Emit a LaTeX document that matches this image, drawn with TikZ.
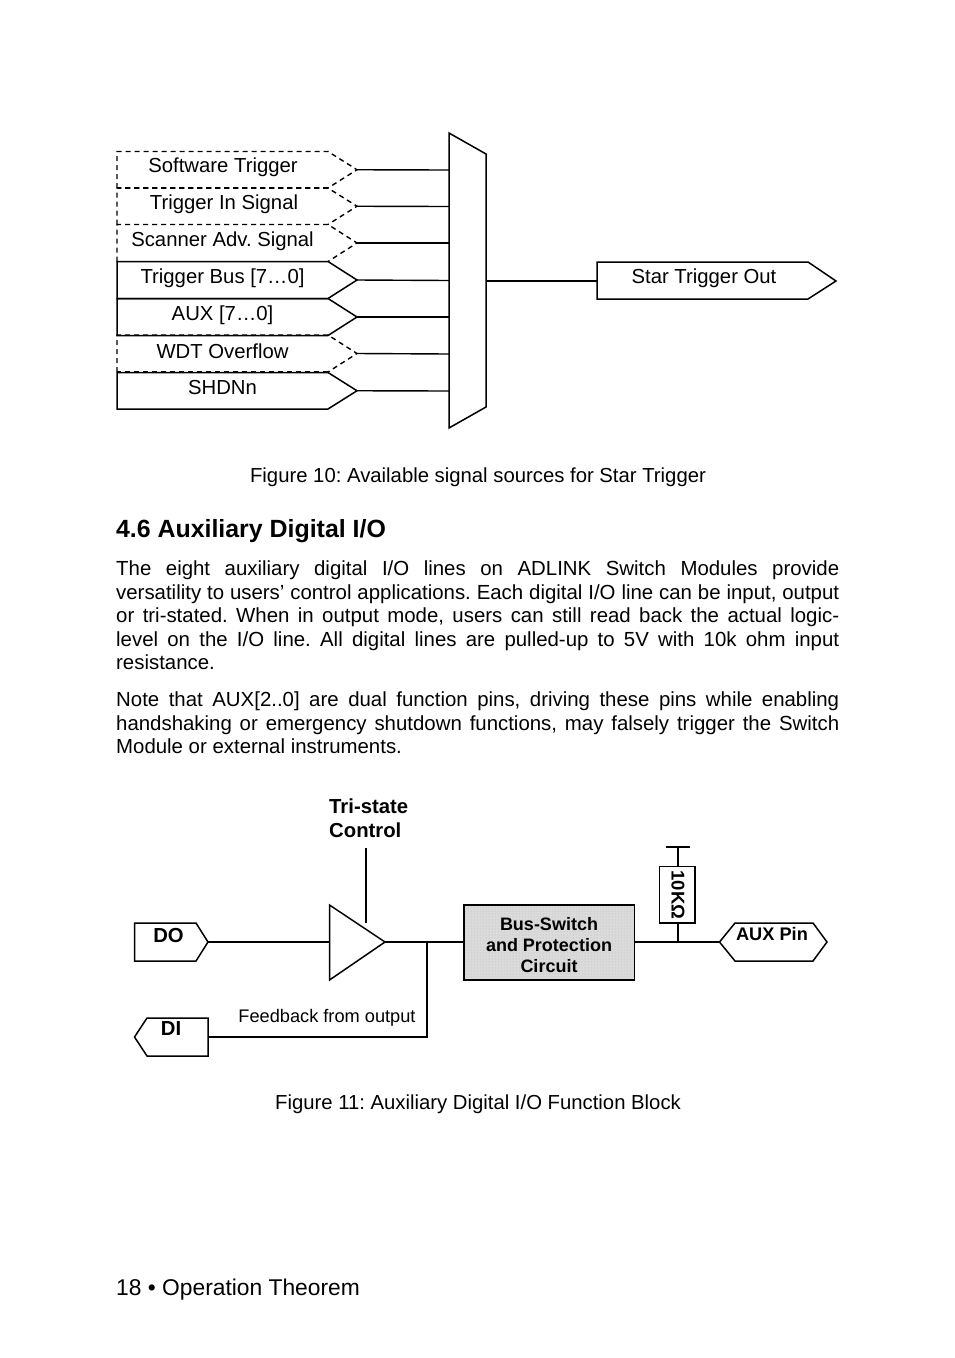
\documentclass[tikz,border=0pt]{standalone}
\usepackage{fontspec}
\setmainfont{Liberation Sans}
\usetikzlibrary{patterns}
\frenchspacing
\tikzset{
  x=1pt,y=-1pt,
  wire/.style={draw=black,line width=1.4pt},
  shapeline/.style={draw=black,line width=1.5pt,line join=miter},
  dashline/.style={draw=black,line width=1.4pt,dash pattern=on 5pt off 4pt},
  lbl/.style={inner sep=0pt,anchor=center,font=\fontsize{20.3}{24}\selectfont},
  blbl/.style={inner sep=0pt,anchor=center,font=\fontsize{20.3}{24}\selectfont\bfseries},
  body/.style={inner sep=0pt,anchor=north west,text width=723pt,align=justify,font=\fontsize{20.4}{23.35}\selectfont},
}
\newcommand{\solidsig}[3]{% top, bottom, tip-name
  \draw[shapeline] (117,#1) -- (328,#1) -- (357,{(#1+#2)/2}) -- (328,#2) -- (117,#2) -- cycle;
  \coordinate (#3) at (357,{(#1+#2)/2});}
\newcommand{\dashsig}[3]{%
  \draw[dashline] (328,#2) -- (117,#2);
  \draw[dashline] (117,#2) -- (117,#1) -- (328,#1) -- (357,{(#1+#2)/2}) -- (328,#2);
  \coordinate (#3) at (357,{(#1+#2)/2});}
\begin{document}
\begin{tikzpicture}
\useasboundingbox (0,0) rectangle (954,1358);
\fill[white] (0,0) rectangle (954,1358);

% top figure
\dashsig{151.5}{188}{s1}
\dashsig{188}{224.5}{s2}
\dashsig{224.5}{261.5}{s3}
\dashsig{335}{372}{s6}
\solidsig{261.5}{298.5}{s4}
\solidsig{298.5}{335.5}{s5}
\solidsig{372.5}{409}{s7}
\node[lbl] (t1) at (223,167.5) {Software Trigger};
\node[lbl] (t2) at (224,204.5) {Trigger In Signal};
\node[lbl] (t3) at (222.5,241.5) {Scanner Adv. Signal};
\node[lbl] (t4) at (222.5,278) {Trigger Bus [7…0]};
\node[lbl] (t5) at (222.5,315) {AUX [7…0]};
\node[lbl] (t6) at (222.5,351) {WDT Overflow};
\node[lbl] (t7) at (222.5,388) {SHDNn};

\draw[shapeline] (449,133) -- (486,154) -- (486,407) -- (449,428) -- cycle;
\foreach \i/\y in {1/170,2/206.5,3/243,4/280.5,5/317,6/354,7/391}{
  \coordinate (m\i) at (449,\y);
  \draw[wire] (s\i) -- (m\i);
}
\coordinate (mo) at (486,281);
\coordinate (so) at (597,281);
\draw[wire] (mo) -- (so);
\draw[shapeline] (597,262) -- (808,262) -- (836,281) -- (808,299) -- (597,299) -- cycle;
\node[lbl] (tso) at (704,278) {Star Trigger Out};

\node[lbl] (cap1) at (478,477) {Figure 10: Available signal sources for Star Trigger};
\node[inner sep=0pt,anchor=center,font=\fontsize{24.9}{28}\selectfont\bfseries] (head) at (251,531) {4.6 Auxiliary Digital I/O};

\node[body] (p1) at (116,561) {The eight auxiliary digital I/O lines on ADLINK Switch Modules provide\linebreak versatility to users’ control applications. Each digital I/O line can be input, output\linebreak or tri-stated. When in output mode, users can still read back the actual logic-\linebreak level on the I/O line. All digital lines are pulled-up to 5V with 10k ohm input\linebreak resistance.};
\node[body] (p2) at (116,692) {Note that AUX[2..0] are dual function pins, driving these pins while enabling\linebreak handshaking or emergency shutdown functions, may falsely trigger the Switch\linebreak Module or external instruments.};

% bottom figure
\node[blbl,anchor=north west,align=left,font=\fontsize{20.3}{24}\selectfont\bfseries] (tri) at (329,799) {Tri-state\\Control};
\draw[shapeline] (134.5,923) -- (196,923) -- (208,942) -- (196,961) -- (134.5,961) -- cycle;
\coordinate (do) at (208,942);
\node[blbl] (tdo) at (168.5,935.5) {DO};
\draw[shapeline] (208,1018) -- (147,1018) -- (134.5,1037) -- (147,1056) -- (208,1056) -- cycle;
\coordinate (di) at (208,1037);
\node[blbl] (tdi) at (171,1029) {DI};

\draw[shapeline] (329.5,905) -- (385,942) -- (329.5,980) -- cycle;
\coordinate (bi) at (329.5,942);
\coordinate (bo) at (385,942);
\coordinate (jn) at (427,942);
\coordinate (ct) at (366,848);
\coordinate (cb) at (366,923);
\coordinate (fb) at (427,1037);
\draw[wire] (do) -- (bi);
\draw[wire] (ct) -- (cb);
\draw[wire,line width=1.7pt] (di) -- (fb) -- (jn);
\node[inner sep=0pt,font=\fontsize{18.2}{22}\selectfont] (tfb) at (327,1017.5) {Feedback from output};

\draw[fill=black!14,draw=none] (464,905) rectangle (634.5,980);
\fill[pattern=dots,pattern color=black!28] (464,905) rectangle (634.5,980);
\draw[shapeline] (464,905) rectangle (634.5,980);
\coordinate (bl) at (464,942);
\coordinate (br) at (634.5,942);
\draw[wire] (bo) -- (bl);
\node[inner sep=0pt,align=center,font=\fontsize{18}{21}\selectfont\bfseries] (tbs) at (549,945) {Bus-Switch\\and Protection\\Circuit};

\draw[shapeline] (719.5,942) -- (735,923) -- (813,923) -- (827,942) -- (813,961) -- (735,961) -- cycle;
\coordinate (ax) at (719.5,942);
\node[inner sep=0pt,font=\fontsize{18.2}{22}\selectfont\bfseries] (tax) at (772,934) {AUX Pin};
\draw[wire] (br) -- (ax);

\draw[shapeline] (659.5,866.5) rectangle (695,923);
\coordinate (rt) at (678,866.5);
\coordinate (rb) at (678,923);
\coordinate (rj) at (678,942);
\coordinate (cp) at (678,847);
\draw[wire] (rj) -- (rb);
\draw[wire] (rt) -- (cp);
\draw[line width=2.8pt] (666,847) -- (690,847);
\node[inner sep=0pt,rotate=-90,font=\fontsize{18.5}{22}\selectfont\bfseries] (tr) at (678,895) {10KΩ};

\node[lbl] (capb) at (478,1104) {Figure 11: Auxiliary Digital I/O Function Block};
\node[inner sep=0pt,anchor=west,font=\fontsize{22.8}{28}\selectfont] (foot) at (116,1290) {18 • Operation Theorem};
\end{tikzpicture}
\end{document}
